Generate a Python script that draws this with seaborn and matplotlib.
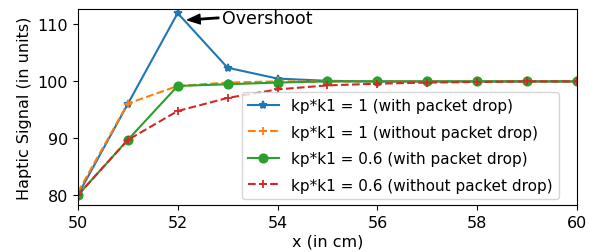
import numpy as np
import pandas as pd
import matplotlib
matplotlib.use('Agg')
import matplotlib.pyplot as plt
import seaborn as sns

x = [50, 51, 52, 53, 54, 55, 56, 57, 58, 59, 60]
k1_drop = [80, 96, 112, 102.4, 100.5, 100.1, 100, 100, 100, 100, 100]
k1_nodrop = [80.5, 96.1, 99.2, 99.8, 100, 100, 100, 100, 100, 100, 100]
k06_drop = [80, 89.7, 99.2, 99.5, 99.8, 100, 100, 100, 100, 100, 100]
k06_nodrop = [80, 89.7, 94.8, 97.1, 98.6, 99.3, 99.6, 99.8, 99.9, 100, 100]

labels = ['kp*k1 = 1 (with packet drop)', 'kp*k1 = 1 (without packet drop)',
          'kp*k1 = 0.6 (with packet drop)', 'kp*k1 = 0.6 (without packet drop)']
series = [k1_drop, k1_nodrop, k06_drop, k06_nodrop]
colors = ['#1f77b4', '#ff7f0e', '#2ca02c', '#d62728']
markers = ['*', '+', 'o', '+']
styles = ['-', '--', '-', '--']
msizes = [6, 6, 6, 6]

fig = plt.figure(figsize=(5.89, 2.53), dpi=100)
ax = fig.add_axes([0.132, 0.186, 0.848, 0.774])

for vals, lab, c, m, ls, ms in zip(series, labels, colors, markers, styles, msizes):
    df = pd.DataFrame({'x': x, 'y': vals})
    sns.lineplot(data=df, x='x', y='y', ax=ax, color=c, marker=m, linestyle=ls,
                 markersize=ms, label=lab, markeredgecolor=c, markeredgewidth=1.3,
                 linewidth=1.5)

ax.set_xlim(50, 60)
ax.set_ylim(78.3, 112.7)
ax.set_xticks([50, 52, 54, 56, 58, 60])
ax.set_yticks([80, 90, 100, 110])
ax.set_xlabel('x (in cm)', fontsize=11.5, labelpad=3)
ax.set_ylabel('Haptic Signal (in units)', fontsize=11.5, labelpad=4)
ax.tick_params(labelsize=11.5)

ax.annotate('Overshoot', xy=(52.2, 110.8), xytext=(52.88, 111.2),
            fontsize=12.5, va='center',
            arrowprops=dict(facecolor='black', edgecolor='black', width=1,
                            headwidth=7, headlength=9, shrink=0.0))

ax.legend(loc='lower right', fontsize=11, bbox_to_anchor=(0.975, 0.0),
          handlelength=2.0, labelspacing=0.75, borderaxespad=0.4)

fig.savefig('out.png', dpi=100)
